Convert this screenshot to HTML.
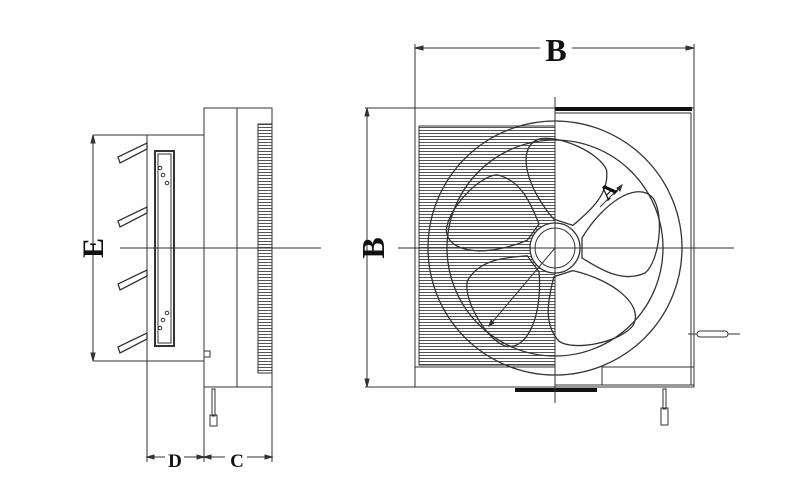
<!DOCTYPE html>
<html><head><meta charset="utf-8"><style>
html,body{margin:0;padding:0;background:#fff;}
svg{display:block;}
text{font-family:"Liberation Serif",serif;font-weight:bold;fill:#111;}
</style></head><body>
<svg width="812" height="486" viewBox="0 0 812 486" xmlns="http://www.w3.org/2000/svg">
<defs>
<pattern id="hl" width="4" height="3" patternUnits="userSpaceOnUse">
<rect width="4" height="3" fill="#fff"/><line x1="0" y1="1.5" x2="4" y2="1.5" stroke="#555" stroke-width="1"/>
</pattern>
<g id="blade"><path d="M27,-10 C48,-45 82,-68 98,-50 C110,-32 104,14 90,25 C66,36 42,19 27,10 Z" fill="none" stroke="#333" stroke-width="1.3"/></g>
</defs>
<g stroke="#333" stroke-width="1" fill="none">
<!-- LEFT SIDE VIEW -->
<rect x="147" y="135" width="57" height="226"/>
<rect x="204" y="108" width="68" height="279"/>
<line x1="237" y1="108" x2="237" y2="387"/>
<rect x="258" y="124" width="14" height="249" fill="url(#hl)"/>
<rect x="155" y="151" width="19" height="195" stroke-width="2"/>
<rect x="158" y="154" width="13" height="189"/>
<circle cx="160" cy="168" r="1.8"/><circle cx="163" cy="175" r="1.8"/><circle cx="167" cy="183" r="1.8"/>
<circle cx="167" cy="313" r="1.8"/><circle cx="163" cy="320" r="1.8"/><circle cx="160" cy="328" r="1.8"/>
<path d="M118,157 L147,143 L147,149 L120,163 Z" stroke-width="1.3"/>
<path d="M118,221 L147,207 L147,213 L120,227 Z" stroke-width="1.3"/>
<path d="M118,284 L147,270 L147,276 L120,290 Z" stroke-width="1.3"/>
<path d="M118,347 L147,333 L147,339 L120,353 Z" stroke-width="1.3"/>
<rect x="204" y="351" width="6" height="6"/>
<rect x="212" y="389" width="3" height="27"/>
<rect x="210" y="415" width="7" height="11"/>
<line x1="120" y1="248" x2="321" y2="248"/>
<line x1="93" y1="135" x2="147" y2="135"/>
<line x1="93" y1="361" x2="147" y2="361"/>
<line x1="93" y1="135" x2="93" y2="361"/>
<path d="M93,135 l-2,8 l4,0 Z M93,361 l-2,-8 l4,0 Z" fill="#333"/>
<line x1="147" y1="361" x2="147" y2="462"/>
<line x1="204" y1="387" x2="204" y2="462"/>
<line x1="272" y1="387" x2="272" y2="462"/>
<line x1="147" y1="457" x2="165" y2="457"/><line x1="184" y1="457" x2="225" y2="457"/><line x1="247" y1="457" x2="272" y2="457"/>
<path d="M147,457 l7,-2 l0,4 Z M204,457 l-7,-2 l0,4 Z M204,457 l7,-2 l0,4 Z M272,457 l-7,-2 l0,4 Z" fill="#333"/>

<!-- RIGHT FRONT VIEW -->
<rect x="415" y="108" width="279" height="279"/>
<line x1="555" y1="113" x2="691" y2="113"/>
<line x1="691" y1="113" x2="691" y2="385"/>
<line x1="555" y1="385" x2="694" y2="385"/>
<rect x="419" y="126" width="136" height="239" fill="url(#hl)"/>
<line x1="415" y1="367" x2="555" y2="367"/>
<line x1="602" y1="367" x2="694" y2="367"/>
<line x1="602" y1="367" x2="602" y2="385"/>
<rect x="555" y="107" width="137" height="4" fill="#111" stroke="none"/>
<rect x="515" y="388" width="82" height="4" fill="#111" stroke="none"/>
<circle cx="555" cy="248" r="127" stroke-width="1.3"/>
<circle cx="555" cy="248" r="108" stroke-width="1.3"/>
<g transform="translate(555,248)">
<use href="#blade" transform="rotate(-72)"/>
<use href="#blade" transform="rotate(0)"/>
<use href="#blade" transform="rotate(72)"/>
<use href="#blade" transform="rotate(144)"/>
<use href="#blade" transform="rotate(216)"/>
</g>
<circle cx="555" cy="248" r="25" fill="#fff" stroke-width="1.3"/>
<circle cx="555" cy="248" r="20" stroke-width="1"/>
<line x1="555" y1="248" x2="489" y2="326"/>
<line x1="622" y1="185" x2="600" y2="207"/>
<path d="M489,326 l2,-6 l3,3 Z M622,185 l-2,6 l-3,-3 Z" fill="#333"/>
<line x1="398" y1="248" x2="734" y2="248"/>
<line x1="555" y1="97" x2="555" y2="403"/>
<rect x="663" y="389" width="3" height="20"/>
<rect x="661" y="408" width="7" height="17"/>
<line x1="688" y1="334" x2="740" y2="334"/>
<rect x="697" y="331" width="31" height="6" rx="3" fill="#fff"/>
<line x1="415" y1="44" x2="415" y2="108"/>
<line x1="694" y1="44" x2="694" y2="108"/>
<line x1="415" y1="48" x2="540" y2="48"/><line x1="572" y1="48" x2="694" y2="48"/>
<path d="M415,48 l8,-2 l0,4 Z M694,48 l-8,-2 l0,4 Z" fill="#333"/>
<line x1="365" y1="108" x2="415" y2="108"/>
<line x1="365" y1="387" x2="415" y2="387"/>
<line x1="367" y1="108" x2="367" y2="387"/>
<path d="M367,108 l-2,8 l4,0 Z M367,387 l-2,-8 l4,0 Z" fill="#333"/>
</g>
<text x="556" y="61" font-size="32" text-anchor="middle">B</text>
<text transform="translate(384,248) rotate(-90)" font-size="32" text-anchor="middle">B</text>
<text transform="translate(103,248) rotate(-90)" font-size="30" text-anchor="middle">E</text>
<text x="175" y="467" font-size="19" text-anchor="middle">D</text>
<text x="237" y="467" font-size="19" text-anchor="middle">C</text>
<text transform="translate(613,196) rotate(-45)" font-size="21" text-anchor="middle">A</text>
</svg>
</body></html>
